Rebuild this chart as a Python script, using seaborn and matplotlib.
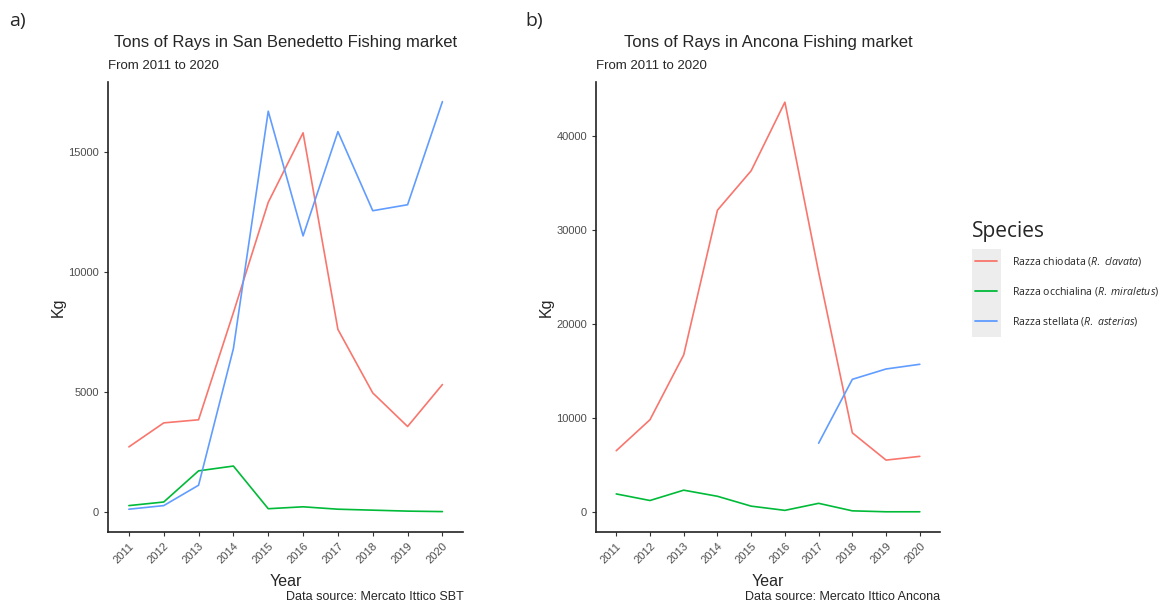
import matplotlib
matplotlib.use("Agg")
import matplotlib.pyplot as plt
import seaborn as sns
import pandas as pd
import numpy as np
from matplotlib.lines import Line2D
from matplotlib.patches import Rectangle

years = list(range(2011, 2021))
species = ["Razza chiodata (R. clavata)", "Razza occhialina (R. miraletus)", "Razza stellata (R. asterias)"]

# San Benedetto (kg)
sbt_clavata = [2700, 3700, 3830, 8300, 12900, 15800, 7600, 4950, 3550, 5300]
sbt_miraletus = [250, 400, 1700, 1900, 120, 200, 100, 60, 20, 0]
sbt_asterias = [100, 250, 1100, 6800, 16700, 11500, 15850, 12550, 12800, 17100]

# Ancona (kg)
anc_clavata = [6500, 9800, 16700, 32100, 36300, 43600, 25500, 8400, 5500, 5900]
anc_miraletus = [1900, 1200, 2300, 1650, 600, 150, 900, 100, 0, 0]
anc_asterias = [np.nan] * 6 + [7300, 14100, 15200, 15700]

palette = ["#F8766D", "#00BA38", "#619CFF"]
legend_labels = [r"Razza chiodata ($\mathit{R.}$ $\mathit{clavata}$)",
                 r"Razza occhialina ($\mathit{R.}$ $\mathit{miraletus}$)",
                 r"Razza stellata ($\mathit{R.}$ $\mathit{asterias}$)"]


def long_df(a, b, c):
    return pd.DataFrame({
        "Year": years * 3,
        "Kg": a + b + c,
        "Species": [species[0]] * 10 + [species[1]] * 10 + [species[2]] * 10,
    })


sns.set_style("ticks")
plt.rcParams["font.family"] = ["Liberation Sans", "DejaVu Sans"]
plt.rcParams["mathtext.fontset"] = "custom"
plt.rcParams["mathtext.rm"] = "Open Sans"
plt.rcParams["mathtext.it"] = "Open Sans:italic"

fig = plt.figure(figsize=(11.65, 6.05), dpi=100)
ax1 = fig.add_axes([0.0927, 0.1207, 0.305, 0.7438])
ax2 = fig.add_axes([0.5116, 0.1207, 0.2953, 0.7438])

panels = [
    (ax1, long_df(sbt_clavata, sbt_miraletus, sbt_asterias), (-850, 17920),
     [0, 5000, 10000, 15000], "Tons of Rays in San Benedetto Fishing market",
     "Data source: Mercato Ittico SBT", 355),
    (ax2, long_df(anc_clavata, anc_miraletus, anc_asterias), (-2150, 45750),
     [0, 10000, 20000, 30000, 40000], "Tons of Rays in Ancona Fishing market",
     "Data source: Mercato Ittico Ancona", 344),
]

for ax, df, ylim, yticks, title, caption, wpx in panels:
    sns.lineplot(data=df, x="Year", y="Kg", hue="Species", palette=palette,
                 hue_order=species, linewidth=1.2, ax=ax, legend=False)
    ax.set_xlim(2010.4, 2020.6)
    ax.set_ylim(*ylim)
    ax.set_xticks(years)
    ax.set_xticklabels([str(y) for y in years], rotation=45, ha="right",
                       rotation_mode="anchor", fontsize=8, color="#4D4D4D")
    ax.set_yticks(yticks)
    ax.set_yticklabels([str(t) for t in yticks], fontsize=8, color="#4D4D4D")
    ax.tick_params(length=3, width=0.8, color="#333333")
    for s in ["left", "bottom"]:
        ax.spines[s].set_linewidth(1.2)
        ax.spines[s].set_color("#222222")
    sns.despine(ax=ax)
    ax.set_xlabel("Year", fontsize=11.5, va="center")
    ax.xaxis.set_label_coords(0.5, -50 / 450)
    ax.set_ylabel("Kg", fontsize=11.5, va="center")
    ax.yaxis.set_label_coords(-50 / wpx, 0.5)
    ax.text(0.5, 1.087, title, transform=ax.transAxes, ha="center", va="center", fontsize=12)
    ax.text(0.0, 1.036, "From 2011 to 2020", transform=ax.transAxes, ha="left", va="center", fontsize=9.5)
    ax.text(1.0, -65 / 450, caption, transform=ax.transAxes, ha="right", va="center", fontsize=9)

fig.text(0.008, 0.965, "a)", fontsize=14, family=["Open Sans", "DejaVu Sans"], va="center")
fig.text(0.451, 0.965, "b)", fontsize=14, family=["Open Sans", "DejaVu Sans"], va="center")

# legend
fig.patches.append(Rectangle((972 / 1165, 1 - 337 / 605), 29 / 1165, 88 / 605,
                             transform=fig.transFigure, facecolor="#EDEDED",
                             edgecolor="none", zorder=0))
fig.text(972 / 1165, 1 - 231 / 605, "Species", fontsize=15,
         family=["Open Sans", "DejaVu Sans"], va="center", ha="left")
handles = [Line2D([], [], color=c, linewidth=1.3) for c in palette]
leg = fig.legend(handles, legend_labels, loc="upper left",
                 bbox_to_anchor=(975 / 1165, 1 - 255 / 605), frameon=False,
                 fontsize=7.6, handlelength=2.1, handletextpad=1.4, labelspacing=1.6,
                 borderpad=0, borderaxespad=0)
for t in leg.get_texts():
    t.set_family(["Open Sans", "DejaVu Sans"])

fig.savefig("out.png", dpi=100)
